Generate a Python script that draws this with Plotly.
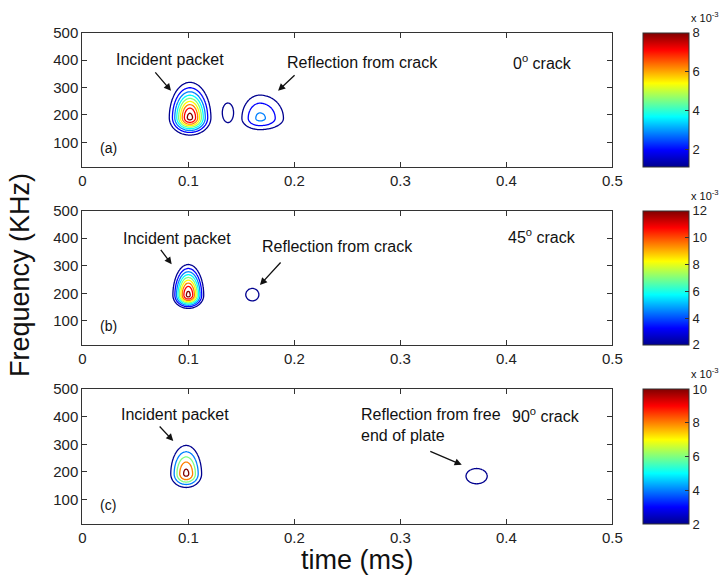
import numpy as np
import plotly.graph_objects as go

W, H = 726, 575

# ---------------- data ----------------
time_ms = np.round(np.arange(0, 0.5005, 0.001), 4)
freq_khz = np.arange(0, 502, 2.0)

# wave packets (amplitude in units of 1e-3)
pk_panel = [0, 0, 0, 1, 1, 2, 2]
pk_t0 = [0.1015, 0.1374, 0.1676, 0.100, 0.1604, 0.098, 0.372]
pk_f0 = [190, 208, 188, 193, 195, 193, 185]
pk_amp = [8.2, 1.5, 3.0, 12.0, 2.8, 10.0, 2.6]
pk_st_left = [0.0098, 0.0073, 0.0123, 0.0082, 0.013, 0.0086, 0.025]
pk_st_right = [0.0100, 0.0073, 0.016, 0.0082, 0.013, 0.0086, 0.025]
pk_sf_down = [32, 49, 30, 27, 47.5, 29, 69]
pk_sf_up = [65, 49, 61, 63, 47.5, 61, 69]

lev_start = [1.15, 2.5, 2.4]
lev_size = [0.85, 1.15, 1.8]
lev_end = [7.95, 11.7, 9.6]
cb_min = [1.13, 2, 2]
cb_max = [8, 12, 10]
cb_ticks = [[2, 4, 6, 8], [2, 4, 6, 8, 10, 12], [2, 4, 6, 8, 10]]

x_ticks = [0, 0.1, 0.2, 0.3, 0.4, 0.5]
x_ticktext = ["0", "0.1", "0.2", "0.3", "0.4", "0.5"]
y_ticks = [100, 200, 300, 400, 500]

panel_labels = ["(a)", "(b)", "(c)"]
crack_labels = ["0<sup>o</sup> crack", "45<sup>o</sup> crack", "90<sup>o</sup> crack"]
incident_text = "Incident packet"
reflection_texts = ["Reflection from crack", "Reflection from crack",
                    "Reflection from free<br>end of plate"]
# arrow heads (time, freq) for incident and reflection arrows
inc_head_t = [0.0837, 0.0843, 0.0858]
inc_head_f = [288, 305, 312]
ref_head_t = [0.1847, 0.1676, 0.358]
ref_head_f = [288, 230, 226]

# ---------------- build fields ----------------
T, F = np.meshgrid(time_ms, freq_khz)
fields = [np.zeros_like(T) for _ in range(3)]
for i in range(len(pk_panel)):
    st = np.where(T < pk_t0[i], pk_st_left[i], pk_st_right[i])
    sf = np.where(F < pk_f0[i], pk_sf_down[i], pk_sf_up[i])
    g = pk_amp[i] * np.exp(-0.5 * ((T - pk_t0[i]) / st) ** 2 - 0.5 * ((F - pk_f0[i]) / sf) ** 2)
    fields[pk_panel[i]] = np.maximum(fields[pk_panel[i]], g)

jet = [[0.0, "rgb(0,0,143)"], [0.125, "rgb(0,0,255)"], [0.375, "rgb(0,255,255)"],
       [0.625, "rgb(255,255,0)"], [0.875, "rgb(255,0,0)"], [1.0, "rgb(128,0,0)"]]

FONT = "Arial, Liberation Sans, Helvetica, sans-serif"

# pixel layout
x_left, x_right = 82.3, 612.3
panel_top = [32.7, 210.7, 389.0]
panel_bot = [166.5, 345.0, 524.0]
cb_left, cb_thick = 643, 46


def px(x):
    return x / W


def py(y):
    return 1 - y / H


def label(text, x, y, size, **kw):
    d = dict(text=text, xref="paper", yref="paper", x=px(x), y=py(y),
             xanchor="center", yanchor="middle", showarrow=False,
             font=dict(family=FONT, size=size, color="#111"))
    d.update(kw)
    return d


fig = go.Figure()
annotations = []
for p in range(3):
    sx = "" if p == 0 else str(p + 1)
    xa, ya = "x" + sx, "y" + sx
    fig.add_trace(go.Contour(
        x=time_ms, y=freq_khz, z=fields[p],
        xaxis=xa, yaxis=ya,
        colorscale=jet, zauto=False, zmin=cb_min[p], zmax=cb_max[p],
        autocontour=False,
        contours=dict(start=lev_start[p], end=lev_end[p], size=lev_size[p],
                      coloring="lines", showlines=True),
        line=dict(width=1.3, smoothing=1),
        showscale=False, hoverinfo="skip",
    ))
    # dummy trace for a continuous colorbar
    fig.add_trace(go.Scatter(
        x=[-1, -1], y=[-100, -100], xaxis=xa, yaxis=ya, mode="markers",
        marker=dict(color=[cb_min[p], cb_max[p]], colorscale=jet,
                    cmin=cb_min[p], cmax=cb_max[p], showscale=True, size=1,
                    colorbar=dict(
                        x=px(cb_left), xanchor="left", thickness=cb_thick,
                        thicknessmode="pixels",
                        len=panel_bot[p] - panel_top[p], lenmode="pixels",
                        y=py((panel_top[p] + panel_bot[p]) / 2), yanchor="middle",
                        tickvals=cb_ticks[p], ticktext=[str(v) for v in cb_ticks[p]],
                        ticks="inside", ticklen=4, tickcolor="#333",
                        outlinewidth=1, outlinecolor="#333",
                        tickfont=dict(family=FONT, size=13, color="#222"),
                        xpad=0, ypad=0,
                    )),
        showlegend=False, hoverinfo="skip",
    ))

    axis_common = dict(showline=True, linecolor="#333", linewidth=1, mirror="ticks",
                       ticks="inside", ticklen=5, tickcolor="#333", showgrid=False,
                       zeroline=False, tickfont=dict(family=FONT, size=15, color="#222"))
    fig.layout["xaxis" + sx] = dict(
        domain=[px(x_left), px(x_right)], range=[0, 0.5], anchor=ya,
        tickvals=x_ticks, ticktext=x_ticktext, **axis_common)
    fig.layout["yaxis" + sx] = dict(
        domain=[py(panel_bot[p]), py(panel_top[p])], range=[12, 500], anchor=xa,
        tickvals=y_ticks, **axis_common)

    # text annotations
    annotations.append(label(panel_labels[p], 108, panel_bot[p] - 19, 14))
    crack_y = panel_top[p] + [29, 25, 26][p]
    annotations.append(label(crack_labels[p], 542 if p < 2 else 546, crack_y, 16))
    inc_pos = [(170, 60), (177, 238), (175, 414)][p]
    annotations.append(label(incident_text, inc_pos[0], inc_pos[1], 16))
    if p < 2:
        ref_pos = [(362, 63), (337, 247)][p]
        annotations.append(label(reflection_texts[p], ref_pos[0], ref_pos[1], 16))
    else:
        annotations.append(label(reflection_texts[p], 359, 425, 16,
                                 xanchor="left", align="left"))
    # arrows
    inc_tail = [(-17, -20), (-12, -16), (-15, -16)][p]
    ref_tail = [(18, -17), (22, -24), (-33, -14)][p]
    annotations.append(dict(text="", x=inc_head_t[p], y=inc_head_f[p], xref=xa, yref=ya,
                            showarrow=True, ax=inc_tail[0], ay=inc_tail[1],
                            arrowhead=2, arrowsize=1.1, arrowwidth=1.3, arrowcolor="#111"))
    annotations.append(dict(text="", x=ref_head_t[p], y=ref_head_f[p], xref=xa, yref=ya,
                            showarrow=True, ax=ref_tail[0], ay=ref_tail[1],
                            arrowhead=2, arrowsize=1.1, arrowwidth=1.3, arrowcolor="#111"))
    # colorbar exponent
    annotations.append(label("x 10<sup>-3</sup>", 689, panel_top[p] - 7, 11,
                             xanchor="left", yanchor="bottom"))

# axis titles
annotations.append(label("Frequency (KHz)", 20, 275, 27, textangle=-90))
annotations.append(label("time (ms)", 357, 560, 27))

fig.update_layout(
    width=W, height=H,
    margin=dict(l=0, r=0, t=0, b=0, pad=0, autoexpand=False),
    paper_bgcolor="white", plot_bgcolor="white",
    showlegend=False, annotations=annotations,
)

fig.write_html("out.html")
